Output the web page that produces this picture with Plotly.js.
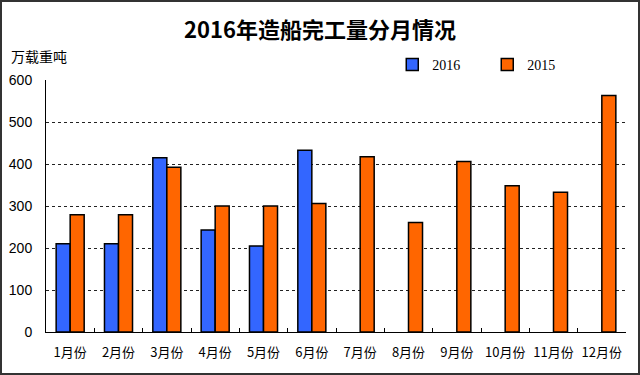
<!DOCTYPE html>
<html><head><meta charset="utf-8">
<script src="https://cdn.plot.ly/plotly-3.0.1.min.js"></script>
<style>
html,body{margin:0;padding:0;background:#fff;}
#wrap{position:relative;width:640px;height:375px;}
#chart{width:640px;height:375px;}
#frame{position:absolute;left:0;top:0;width:640px;height:375px;box-sizing:border-box;border:2px solid #333;pointer-events:none;}
</style>
</head><body>
<div id="wrap"><div id="chart"></div><div id="frame"></div></div>
<script>
const months = ['1月份','2月份','3月份','4月份','5月份','6月份','7月份','8月份','9月份','10月份','11月份','12月份'];
const y2016 = [210, 210, 415, 243, 205, 433, null, null, null, null, null, null];
const y2015 = [279, 279, 392, 300, 300, 306, 417, 261, 406, 348, 333, 563];
const yTicks = [0, 100, 200, 300, 400, 500, 600];

const traces = [
  {type:'bar', name:'2016', x:months, y:y2016,
   marker:{color:'#3366FF', line:{color:'#000', width:1.5}}},
  {type:'bar', name:'2015', x:months, y:y2015,
   marker:{color:'#FF6600', line:{color:'#000', width:1.5}}}
];

const layout = {
  width:640, height:375,
  margin:{l:46, r:14, t:80, b:43, autoexpand:false},
  paper_bgcolor:'#fff', plot_bgcolor:'#fff',
  barmode:'group', bargap:0.42, bargroupgap:0,
  title:{text:'<b>2016年造船完工量分月情况</b>', x:0.5, xanchor:'center', y:0.92, yanchor:'middle',
         font:{family:'Noto Sans CJK SC', size:22, color:'#000'}},
  showlegend:true,
  legend:{orientation:'h', x:0.597, xref:'paper', y:1.0595, yanchor:'middle', xanchor:'left',
          entrywidth:50, entrywidthmode:'pixels',
          font:{family:'Liberation Serif', size:14, color:'#000'}, traceorder:'normal', bgcolor:'rgba(0,0,0,0)'},
  xaxis:{type:'category', showline:true, linecolor:'#000', linewidth:1, automargin:false,
         ticks:'inside', tickson:'boundaries', ticklen:4, tickcolor:'#000', tickangle:0,
         ticklabelstandoff:8,
         showgrid:false, tickfont:{family:'Noto Sans CJK SC', size:13, color:'#000'}, fixedrange:true},
  yaxis:{range:[0,600], tickvals:yTicks, showline:true, linecolor:'#000', linewidth:1, automargin:false,
         ticks:'', showgrid:true, gridcolor:'#222', griddash:'dot', gridwidth:1,
         ticklabelstandoff:10, zeroline:false,
         tickfont:{family:'Liberation Sans', size:14, color:'#000'}, fixedrange:true},
  annotations:[{text:'万载重吨', xref:'paper', yref:'paper', x:-0.064, y:1.095, xanchor:'left', yanchor:'middle',
                showarrow:false, font:{family:'Noto Sans CJK SC', size:14, color:'#000'}}]
};
Plotly.newPlot('chart', traces, layout, {displayModeBar:false, staticPlot:true});
</script>
</body></html>
